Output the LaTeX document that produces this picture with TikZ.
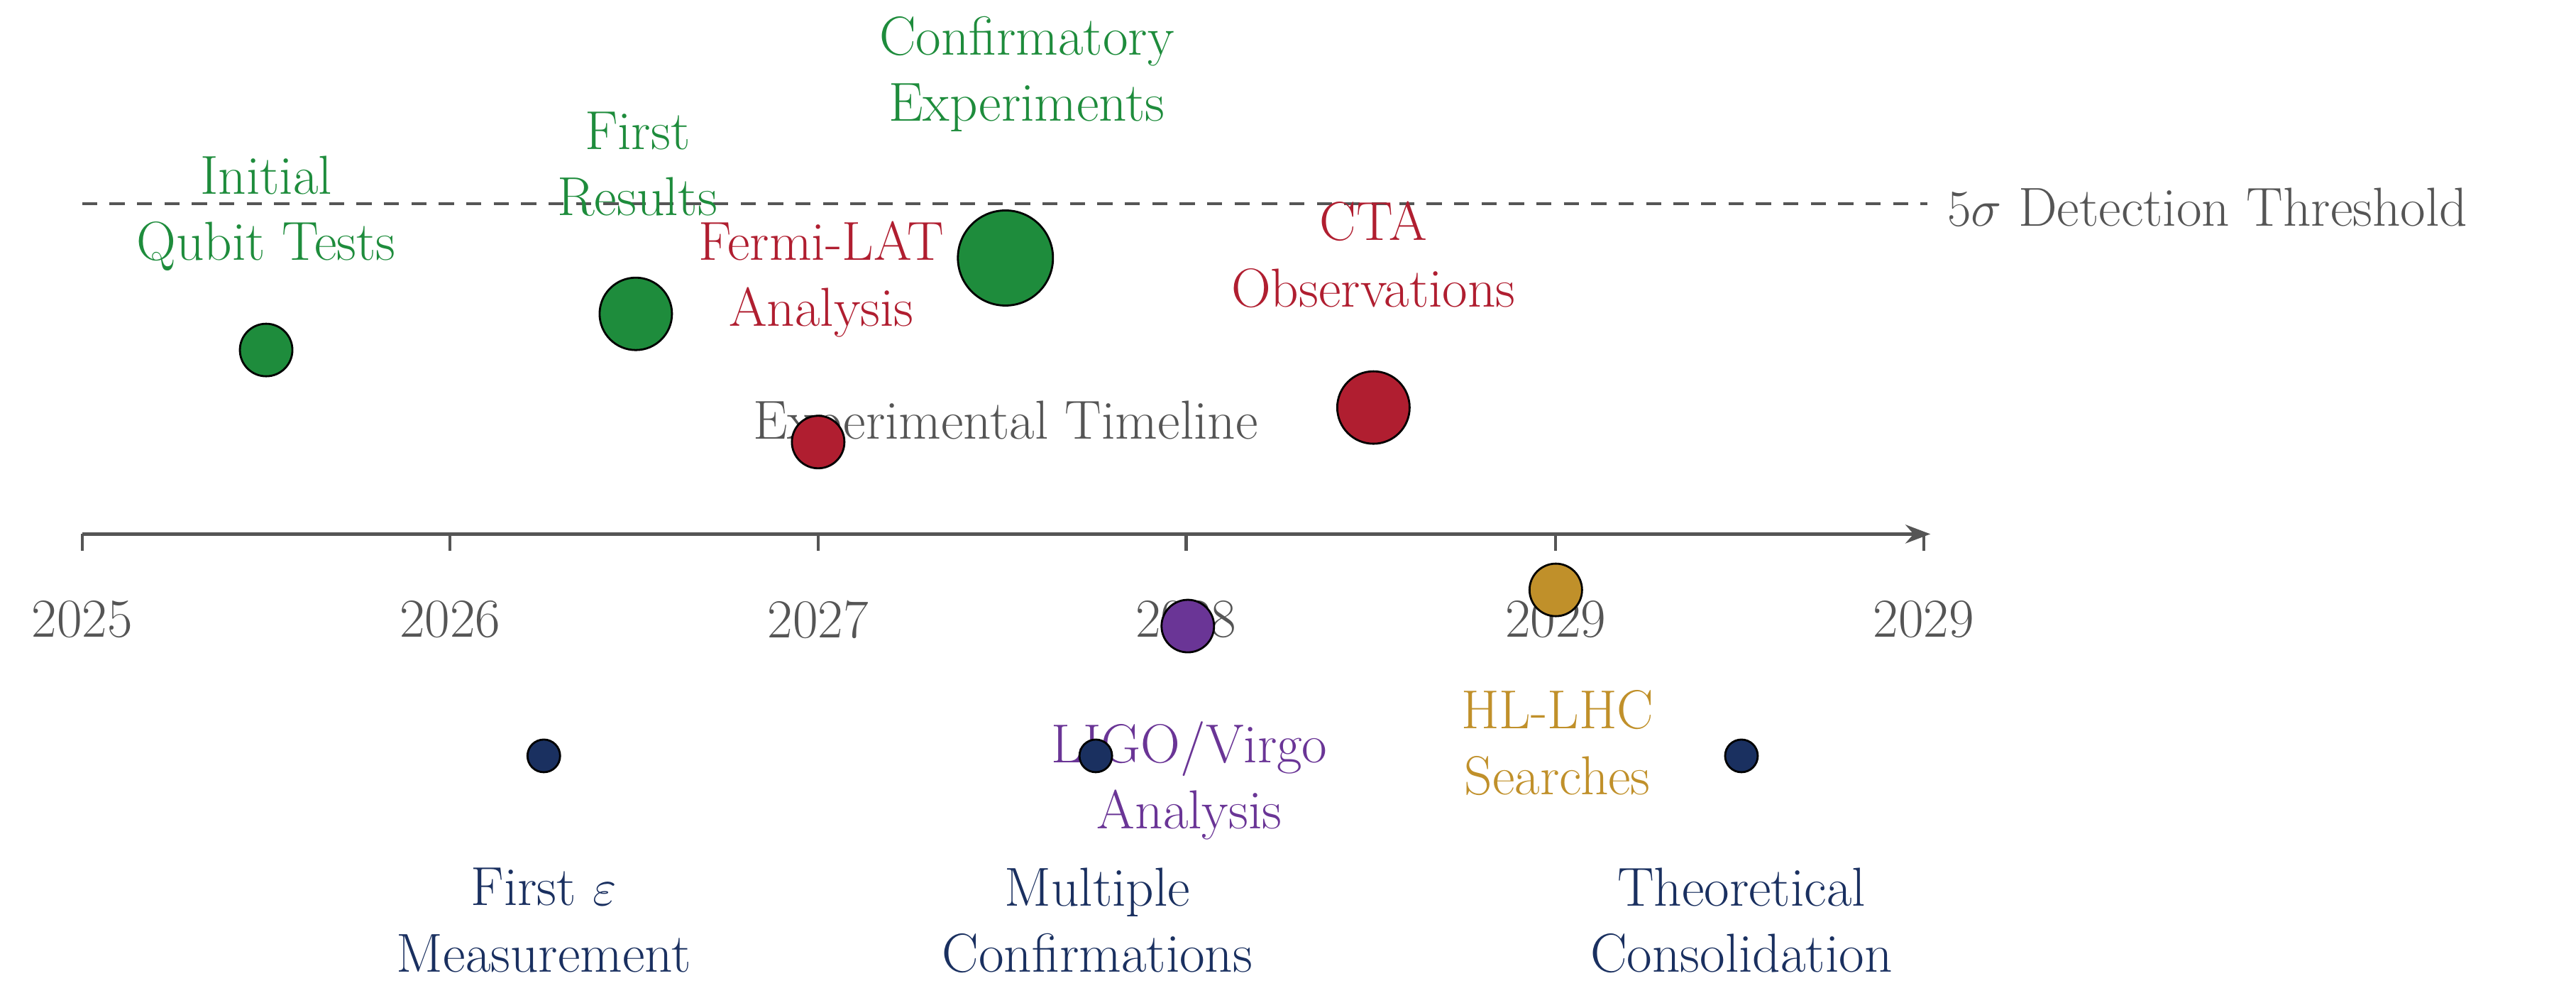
\documentclass[tikz,border=0pt]{standalone}
\usetikzlibrary{arrows.meta}
\definecolor{cg}{HTML}{1E8C3C}
\definecolor{cr}{HTML}{B01E30}
\definecolor{cp}{HTML}{6A3596}
\definecolor{cy}{HTML}{C0902A}
\definecolor{cn}{HTML}{1A3060}
\definecolor{cgr}{HTML}{555555}
\begin{document}
\begin{tikzpicture}[x=0.02315cm,y=-0.02315cm,
 lab/.style={align=center,font=\fontsize{22}{26.5}\selectfont},
 dot/.style={circle,draw=black,line width=0.8pt,inner sep=0pt}]
\useasboundingbox (0,0) rectangle (1568,604);
\coordinate (da) at (50,124); \coordinate (db) at (1173,124);
\draw[cgr,line width=1pt,dash pattern=on 6pt off 5pt] (da) -- (db);
\node[lab,cgr,anchor=west] (thr) at (1180,126) {$5\sigma$ Detection Threshold};
\coordinate (a0) at (50,325); \coordinate (a1) at (1175,325);
\draw[cgr,line width=1.2pt,-{Stealth[length=10pt]}] (a0) -- (a1);
\foreach \x/\t [count=\i] in {50/2025,274/2026,498/2027,722/2028,947/2029,1171/2029}{
 \draw[cgr,line width=1.2pt] (\x,325) -- (\x,335);
 \node[lab,cgr] (t\i) at (\x,377) {\t};}
\node[lab,cgr] (et) at (612,259) {Experimental Timeline};
\node[lab,cg] (lg1) at (162,130) {Initial\\Qubit Tests};
\node[lab,cg] (lg2) at (388,100) {First\\Results};
\node[lab,cg] (lg3) at (625,45) {Confirmatory\\Experiments};
\node[lab,cr] (lr1) at (500,170) {Fermi-LAT\\Analysis};
\node[lab,cr] (lr2) at (836,155) {CTA\\Observations};
\node[lab,cp] (lp1) at (724,475) {LIGO/Virgo\\Analysis};
\node[lab,cy] (ly1) at (948,452) {HL-LHC\\Searches};
\node[lab,cn] (ln1) at (331,560) {First $\varepsilon$\\Measurement};
\node[lab,cn] (ln2) at (668,560) {Multiple\\Confirmations};
\node[lab,cn] (ln3) at (1060,560) {Theoretical\\Consolidation};
\node[dot,fill=cg,minimum size=0.74cm] (g1) at (162,213) {};
\node[dot,fill=cg,minimum size=1.02cm] (g2) at (387,191) {};
\node[dot,fill=cg,minimum size=1.34cm] (g3) at (612,157) {};
\node[dot,fill=cr,minimum size=0.74cm] (r1) at (498,269) {};
\node[dot,fill=cr,minimum size=1.02cm] (r2) at (836,248) {};
\node[dot,fill=cp,minimum size=0.74cm] (p1) at (723,381) {};
\node[dot,fill=cy,minimum size=0.74cm] (y1) at (947,359) {};
\node[dot,fill=cn,minimum size=0.46cm] (n1) at (331,460) {};
\node[dot,fill=cn,minimum size=0.46cm] (n2) at (667,460) {};
\node[dot,fill=cn,minimum size=0.46cm] (n3) at (1060,460) {};
\end{tikzpicture}
\end{document}
